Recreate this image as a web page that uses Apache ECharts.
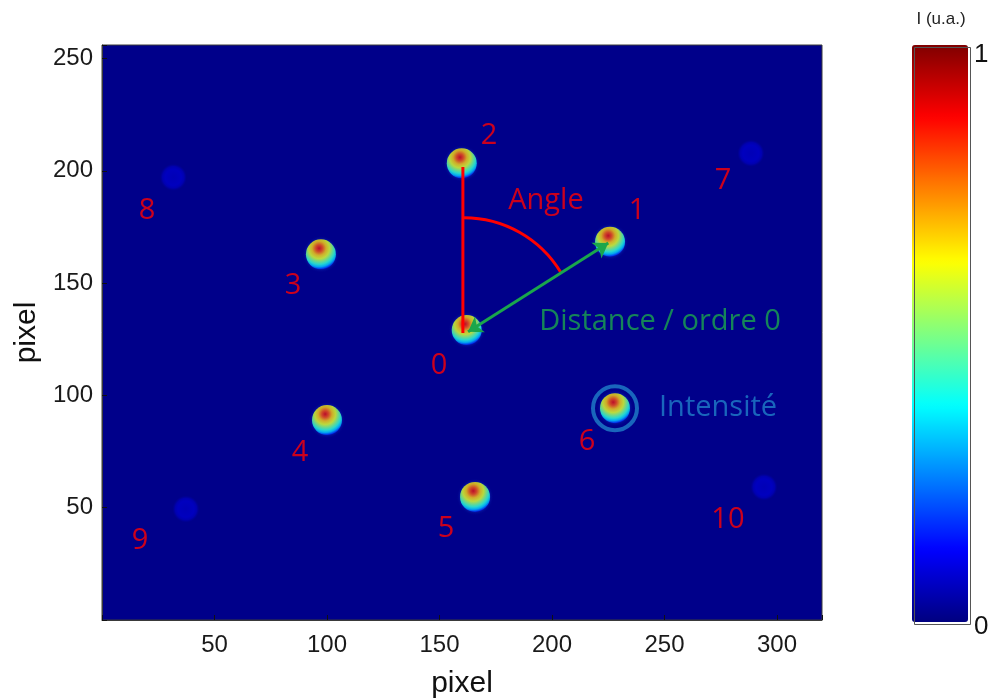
<!DOCTYPE html>
<html><head><meta charset="utf-8">
<script src="https://cdn.jsdelivr.net/npm/echarts@6.0.0/dist/echarts.min.js"></script>
<style>html,body{margin:0;padding:0;background:#fff}#c{width:990px;height:698px}</style>
</head><body><div id="c"></div>
<script>
// ---- data ----
const spotIds   = ['0','1','2','3','4','5','6','7','8','9','10'];
const spotX     = [162.1, 225.8, 159.9, 97.3, 100.0, 165.8, 228.0, 288.4, 31.7, 37.3, 294.2];
const spotY     = [129.1, 168.4, 203.3, 162.8, 89.0, 54.8, 94.3, 207.8, 197.1, 49.4, 59.2];
const spotPeak  = [1, 1, 1, 1, 1, 1, 1, 0.075, 0.075, 0.075, 0.075];
const xTicks = [50, 100, 150, 200, 250, 300];
const yTicks = [50, 100, 150, 200, 250];
const labelText = ['0','1','2','3','4','5','6','7','8','9','10','Angle','Distance / ordre 0','Intensité'];
const labelX    = [149.8, 237.8, 172.0, 84.9, 88.0, 152.9, 215.6, 276.0, 20.0, 16.9, 278.2, 197.3, 248.0, 273.8];
const labelY    = [113.1, 182.1, 215.5, 148.7, 74.4, 40.5, 79.3, 195.5, 182.4, 35.2, 44.5, 186.5, 132.7, 94.3];
const angleLine = [[160.4, 201.7], [160.4, 127.8]];
const distArrow = [[162.7, 128.3], [225.0, 167.8]];
const angleArc  = [160.9, 128.8, 50.2, 225.0, 167.8]; // centre x, centre y, radius, direction x, direction y
const intensityCircle = [228.0, 94.3];
const colorbarText = ['1', '0'];
const jetColors = ['#000080','#0000ff','#0080ff','#00ffff','#80ff80','#ffff00','#ff8000','#ff0000','#800000'];

// ---- helpers ----
function jet(v) {
  v = Math.max(0, Math.min(1, v));
  const f = x => Math.max(0, Math.min(1, x));
  const r = f(1.5 - Math.abs(4 * v - 3));
  const g = f(1.5 - Math.abs(4 * v - 2));
  const b = f(1.5 - Math.abs(4 * v - 1));
  return 'rgb(' + Math.round(r * 255) + ',' + Math.round(g * 255) + ',' + Math.round(b * 255) + ')';
}
function spotFill(peak) {
  if (peak < 0.5) {
    return {type: 'radial', x: 0.5, y: 0.5, r: 0.5, colorStops: [
      {offset: 0, color: jet(peak * 0.85)}, {offset: 0.6, color: jet(peak)},
      {offset: 0.8, color: jet(peak * 0.75)}, {offset: 1, color: 'rgba(0,0,138,0.5)'}]};
  }
  const offs = [0, 0.16, 0.32, 0.48, 0.62, 0.74, 0.85, 0.94, 1];
  const lv = [0.9, 0.8, 0.68, 0.6, 0.5, 0.42, 0.32, 0.2, 0.08];
  return {type: 'radial', x: 0.44, y: 0.3, r: 0.72,
    colorStops: offs.map((o, i) => ({offset: o, color: jet(peak * lv[i])}))};
}
const haloFill = {type: 'radial', x: 0.5, y: 0.5, r: 0.5, colorStops: [
  {offset: 0, color: 'rgba(30,110,255,0.9)'}, {offset: 0.7, color: 'rgba(30,110,255,0.55)'},
  {offset: 1, color: 'rgba(0,0,138,0)'}]};

const chart = echarts.init(document.getElementById('c'), null, {renderer: 'canvas'});
const FONT = '"Open Sans", "Noto Sans", sans-serif';
const AXFONT = '"Liberation Sans", Arial, Helvetica, sans-serif';

const labelColor = t => (t === 'Distance / ordre 0' ? '#1aa64c' : (t === 'Intensité' ? '#1f7fc8' : '#ff0000'));

chart.setOption({
  animation: false,
  backgroundColor: '#ffffff',
  grid: {left: 102, top: 45, width: 720, height: 575, containLabel: false, outerBoundsMode: 'none',
         show: true, backgroundColor: '#00008a', borderColor: '#3a3a3a', borderWidth: 1},
  xAxis: {
    type: 'value', min: 0, max: 320, interval: 50,
    name: 'pixel', nameLocation: 'middle', nameGap: 49,
    nameTextStyle: {fontSize: 30, color: '#111', fontFamily: AXFONT},
    axisLine: {show: true, onZero: false, lineStyle: {color: '#3a3a3a', width: 1}},
    axisTick: {show: true, inside: true, length: 5, lineStyle: {color: '#111'}},
    axisLabel: {fontSize: 24, color: '#1a1a1a', margin: 13, fontFamily: AXFONT,
      formatter: v => (xTicks.indexOf(v) >= 0 ? String(v) : '')},
    splitLine: {show: false}
  },
  yAxis: {
    type: 'value', min: 0, max: 256, interval: 50,
    name: 'pixel', nameLocation: 'middle', nameGap: 53, nameRotate: 90,
    nameTextStyle: {fontSize: 30, color: '#111', fontFamily: AXFONT},
    axisLine: {show: true, onZero: false, lineStyle: {color: '#3a3a3a', width: 1}},
    axisTick: {show: true, inside: true, length: 5, lineStyle: {color: '#111'}},
    axisLabel: {fontSize: 24, color: '#1a1a1a', margin: 9, fontFamily: AXFONT,
      formatter: v => (yTicks.indexOf(v) >= 0 ? String(v) : '')},
    splitLine: {show: false}
  },
  visualMap: {
    type: 'continuous', min: 0, max: 1, seriesIndex: [7], calculable: false,
    orient: 'vertical', left: 912, top: 45, itemWidth: 56, itemHeight: 577, padding: 0,
    text: null, showLabel: false, hoverLink: false,
    inRange: {color: jetColors}
  },
  graphic: [
    {type: 'rect', left: 912, top: 45, shape: {width: 56, height: 577}, silent: true, z: 100,
     style: {fill: 'none', stroke: '#555', lineWidth: 1}},
    {type: 'text', x: 941, y: 11, silent: true,
     style: {text: 'I (u.a.)', fontSize: 17, fill: '#222', fontFamily: AXFONT, textAlign: 'center'}},
    {type: 'text', x: 974, y: 42, silent: true,
     style: {text: colorbarText[0], fontSize: 26, fill: '#111', fontFamily: AXFONT}},
    {type: 'text', x: 974, y: 614, silent: true,
     style: {text: colorbarText[1], fontSize: 26, fill: '#111', fontFamily: AXFONT}}
  ],
  series: [
    {type: 'scatter', silent: true, z: 1, symbol: 'circle',
     data: spotX.map((x, i) => ({name: spotIds[i], value: [x, spotY[i]],
        symbolSize: spotPeak[i] < 0.5 ? 0 : 37, itemStyle: {color: haloFill}}))},
    {type: 'scatter', silent: true, z: 2,
     data: spotX.map((x, i) => ({name: spotIds[i], value: [x, spotY[i]],
        symbolSize: spotPeak[i] < 0.5 ? 27 : 30,
        itemStyle: {color: spotFill(spotPeak[i])}})),
     symbol: 'circle'},
    {type: 'line', silent: true, z: 4, data: angleLine, showSymbol: false, symbol: 'none',
     lineStyle: {color: '#ff0000', width: 3}},
    {type: 'custom', silent: true, z: 4, coordinateSystem: 'cartesian2d', data: [angleArc],
     renderItem: function (p, api) {
       const c = api.coord([api.value(0), api.value(1)]);
       const e = api.coord([api.value(3), api.value(4)]);
       const r = api.size([api.value(2), 0])[0];
       const ang = Math.atan2(e[1] - c[1], e[0] - c[0]);
       return {type: 'arc', shape: {cx: c[0], cy: c[1], r: r, startAngle: -Math.PI / 2, endAngle: ang, clockwise: true},
               style: {stroke: '#ff0000', lineWidth: 3, fill: null}};
     }},
    {type: 'lines', silent: true, z: 5, coordinateSystem: 'cartesian2d',
     data: [{coords: distArrow}], symbol: ['arrow', 'arrow'], symbolSize: 14,
     lineStyle: {color: '#1aa64c', width: 3, opacity: 1}},
    {type: 'scatter', silent: true, z: 5, data: [intensityCircle], symbol: 'circle', symbolSize: 44,
     itemStyle: {color: 'rgba(0,0,0,0)', borderColor: '#1f80c8', borderWidth: 4}},
    {type: 'scatter', silent: true, z: 6, symbolSize: 1,
     itemStyle: {color: 'rgba(0,0,0,0)'},
     data: labelText.map((t, i) => ({name: t, value: [labelX[i], labelY[i]],
        label: {show: true, position: 'inside', formatter: '{b}', color: labelColor(t),
                fontSize: 29, fontFamily: FONT}}))},
    {type: 'scatter', data: [], silent: true}
  ]
});
</script></body></html>
